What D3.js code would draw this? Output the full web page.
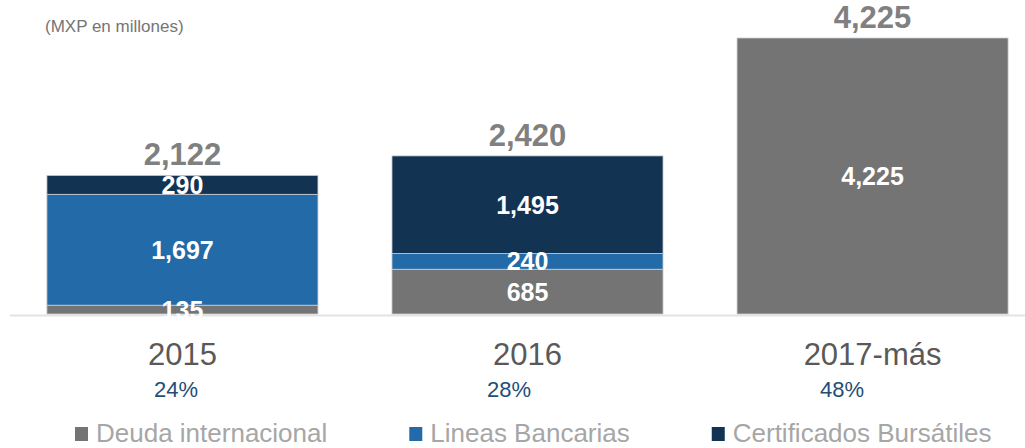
<!DOCTYPE html>
<html>
<head>
<meta charset="utf-8">
<script src="https://cdn.jsdelivr.net/npm/d3@7"></script>
<style>
  body { margin: 0; background: #fff; }
  text { font-family: "Liberation Sans", Arial, sans-serif; }
</style>
</head>
<body>
<svg id="chart" width="1025" height="448"></svg>
<script>
var categories = ["2015", "2016", "2017-más"];
var series = ["Deuda internacional", "Lineas Bancarias", "Certificados Bursátiles"];
var deudaInternacional = [135, 685, 4225];
var lineasBancarias = [1697, 240, 0];
var certificados = [290, 1495, 0];
var totals = [2122, 2420, 4225];
var shares = ["24%", "28%", "48%"];

var colors = d3.scaleOrdinal()
	.domain(series)
	.range(["#737473", "#226aa8", "#133353"]);

var rows = categories.map(function(c, i) {
	return {cat: c, "Deuda internacional": deudaInternacional[i], "Lineas Bancarias": lineasBancarias[i], "Certificados Bursátiles": certificados[i]};
});
var stacked = d3.stack().keys(series)(rows);

// flat list of non-empty segments
var segments = [];
stacked.forEach(function(layer) {
	layer.forEach(function(s) {
		if (s[1] - s[0] > 0) segments.push({key: layer.key, cat: s.data.cat, y0: s[0], y1: s[1]});
	});
});

var svg = d3.select("#chart");

var x = d3.scaleBand()
	.domain(categories)
	.range([10, 1045])
	.paddingInner(0.2145)
	.paddingOuter(0.107);

var y = d3.scaleLinear()
	.domain([0, 4225])
	.range([314, 38]);

var pctX = d3.scalePoint()
	.domain(categories)
	.range([176, 842]);

// unit note
svg.append("text")
	.attr("x", 45)
	.attr("y", 32)
	.style("font-size", "17px")
	.style("fill", "#757575")
	.text("(MXP en millones)");

// baseline
svg.append("line")
	.attr("x1", 10).attr("x2", 1025)
	.attr("y1", y(0) + 1.5).attr("y2", y(0) + 1.5)
	.style("stroke", "#e3e3e3")
	.style("stroke-width", 2);

svg.append("g").attr("class", "bars")
	.selectAll("rect")
	.data(segments)
	.enter().append("rect")
	.attr("x", function(d) { return x(d.cat); })
	.attr("width", x.bandwidth())
	.attr("y", function(d) { return y(d.y1); })
	.attr("height", function(d) { return y(d.y0) - y(d.y1); })
	.style("fill", function(d) { return colors(d.key); })
	.style("stroke", "#c9ced4")
	.style("stroke-width", 0.8);

var fmt = d3.format(",");

// segment labels, drawn after all bars
svg.append("g").attr("class", "seglabels")
	.selectAll("text")
	.data(segments)
	.enter().append("text")
	.attr("x", function(d) { return x(d.cat) + x.bandwidth() / 2; })
	.attr("y", function(d) { return (y(d.y0) + y(d.y1)) / 2; })
	.attr("dy", "0.36em")
	.attr("text-anchor", "middle")
	.style("fill", "#fff")
	.style("font-weight", "bold")
	.style("font-size", "25px")
	.text(function(d) { return fmt(d.y1 - d.y0); });

// totals
svg.selectAll("text.total")
	.data(totals)
	.enter().append("text")
	.attr("class", "total")
	.attr("x", function(d, i) { return x(categories[i]) + x.bandwidth() / 2; })
	.attr("y", function(d) { return y(d) - 10; })
	.attr("text-anchor", "middle")
	.style("fill", "#808080")
	.style("font-weight", "bold")
	.style("font-size", "31px")
	.text(function(d) { return fmt(d); });

// category labels
svg.selectAll("text.cat")
	.data(categories)
	.enter().append("text")
	.attr("class", "cat")
	.attr("x", function(d) { return x(d) + x.bandwidth() / 2; })
	.attr("y", 365)
	.attr("text-anchor", "middle")
	.style("fill", "#595959")
	.style("font-size", "31px")
	.text(function(d) { return d; });

// shares
svg.selectAll("text.pct")
	.data(shares)
	.enter().append("text")
	.attr("class", "pct")
	.attr("x", function(d, i) { return pctX(categories[i]); })
	.attr("y", 397)
	.attr("text-anchor", "middle")
	.style("fill", "#1f4e79")
	.style("font-size", "22px")
	.text(function(d) { return d; });

// legend
var legend = svg.append("g").attr("class", "legend");
var lx = 75;
series.forEach(function(s) {
	var item = legend.append("g").attr("transform", "translate(" + lx + ",0)");
	item.append("rect")
		.attr("x", 0).attr("y", 427)
		.attr("width", 13).attr("height", 14)
		.style("fill", colors(s));
	var t = item.append("text")
		.attr("x", 21).attr("y", 442)
		.style("fill", "#a6a6a6")
		.style("font-size", "26px")
		.text(s);
	lx += 21 + t.node().getComputedTextLength() + 82;
});
</script>
</body>
</html>
